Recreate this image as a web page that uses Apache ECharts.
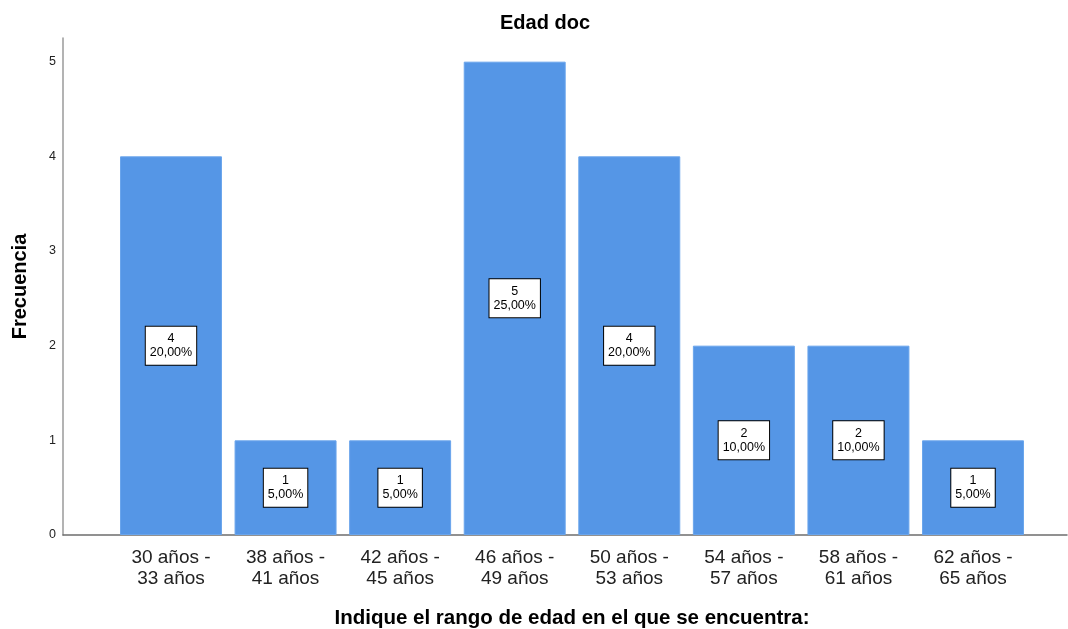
<!DOCTYPE html>
<html>
<head>
<meta charset="utf-8">
<script src="https://cdn.jsdelivr.net/npm/echarts@6/dist/echarts.min.js"></script>
<style>
  html, body { margin: 0; padding: 0; background: #ffffff; }
  #chart { width: 1068px; height: 629px; }
</style>
</head>
<body>
<div id="chart"></div>
<script>
// Age ranges of the teachers surveyed
const categories = [
  '30 años -\n33 años', '38 años -\n41 años', '42 años -\n45 años', '46 años -\n49 años',
  '50 años -\n53 años', '54 años -\n57 años', '58 años -\n61 años', '62 años -\n65 años'
];
// Frequency for each range
const counts = [4, 1, 1, 5, 4, 2, 2, 1];
const yTicks = [0, 1, 2, 3, 4, 5];

const total = counts.reduce((a, b) => a + b, 0);
const pct = v => (v / total * 100).toFixed(2).replace('.', ',') + '%';

const FONT = '"Liberation Sans", Arial, sans-serif';
const Y_MAX = 5.25;
const TOP = 38, BOTTOM = 94;

const chart = echarts.init(document.getElementById('chart'), null, { renderer: 'canvas' });
chart.setOption({
  animation: false,
  backgroundColor: '#ffffff',
  title: {
    text: 'Edad doc',
    left: 540, textAlign: 'center', top: 8,
    textStyle: { fontFamily: FONT, fontSize: 20, fontWeight: 'bold', color: '#000' }
  },
  grid: [
    // bars
    { left: 113.7, right: 37.7, top: TOP, bottom: BOTTOM, containLabel: false, outerBoundsMode: 'none' },
    // frame: axis lines spanning the full plot width
    { left: 63, right: 1, top: TOP, bottom: BOTTOM, containLabel: false, outerBoundsMode: 'none' }
  ],
  xAxis: [
    {
      type: 'category', gridIndex: 0, data: categories,
      axisLine: { show: false }, axisTick: { show: false },
      axisLabel: { fontFamily: FONT, fontSize: 19, color: '#222', lineHeight: 21, margin: 12 },
      name: 'Indique el rango de edad en el que se encuentra:',
      nameLocation: 'middle', nameGap: 73,
      nameTextStyle: { fontFamily: FONT, fontSize: 20.5, fontWeight: 'bold', color: '#000' }
    },
    {
      type: 'value', gridIndex: 1, min: 0, max: 1,
      axisLine: { show: true, lineStyle: { color: '#6e6e6e', width: 1.5 } },
      axisTick: { show: false }, axisLabel: { show: false }, splitLine: { show: false }
    }
  ],
  yAxis: [
    {
      type: 'value', gridIndex: 0, min: 0, max: Y_MAX, interval: 1,
      show: false, splitLine: { show: false }
    },
    {
      type: 'value', gridIndex: 1, min: 0, max: Y_MAX, interval: 1,
      axisLine: { show: true, lineStyle: { color: '#9a9a9a', width: 1.5 } },
      axisTick: { show: false }, splitLine: { show: false },
      axisLabel: {
        fontFamily: FONT, fontSize: 12.5, color: '#222', margin: 7,
        formatter: v => (yTicks.includes(v) ? String(v) : '')
      },
      name: 'Frecuencia', nameLocation: 'middle', nameGap: 33,
      nameTextStyle: { fontFamily: FONT, fontSize: 20, fontWeight: 'bold', color: '#000' }
    }
  ],
  series: [{
    type: 'bar', xAxisIndex: 0, yAxisIndex: 0,
    data: counts,
    barCategoryGap: '11%',
    itemStyle: { color: '#5596e6', borderColor: '#6aa5ec', borderWidth: 1 },
    label: {
      show: true, position: 'inside',
      formatter: p => p.value + '\n' + pct(p.value),
      fontFamily: FONT, fontSize: 12.5, lineHeight: 14, color: '#000',
      backgroundColor: '#ffffff', borderColor: '#000', borderWidth: 1,
      padding: [5, 4, 5, 4], align: 'center'
    }
  }]
});
</script>
</body>
</html>
